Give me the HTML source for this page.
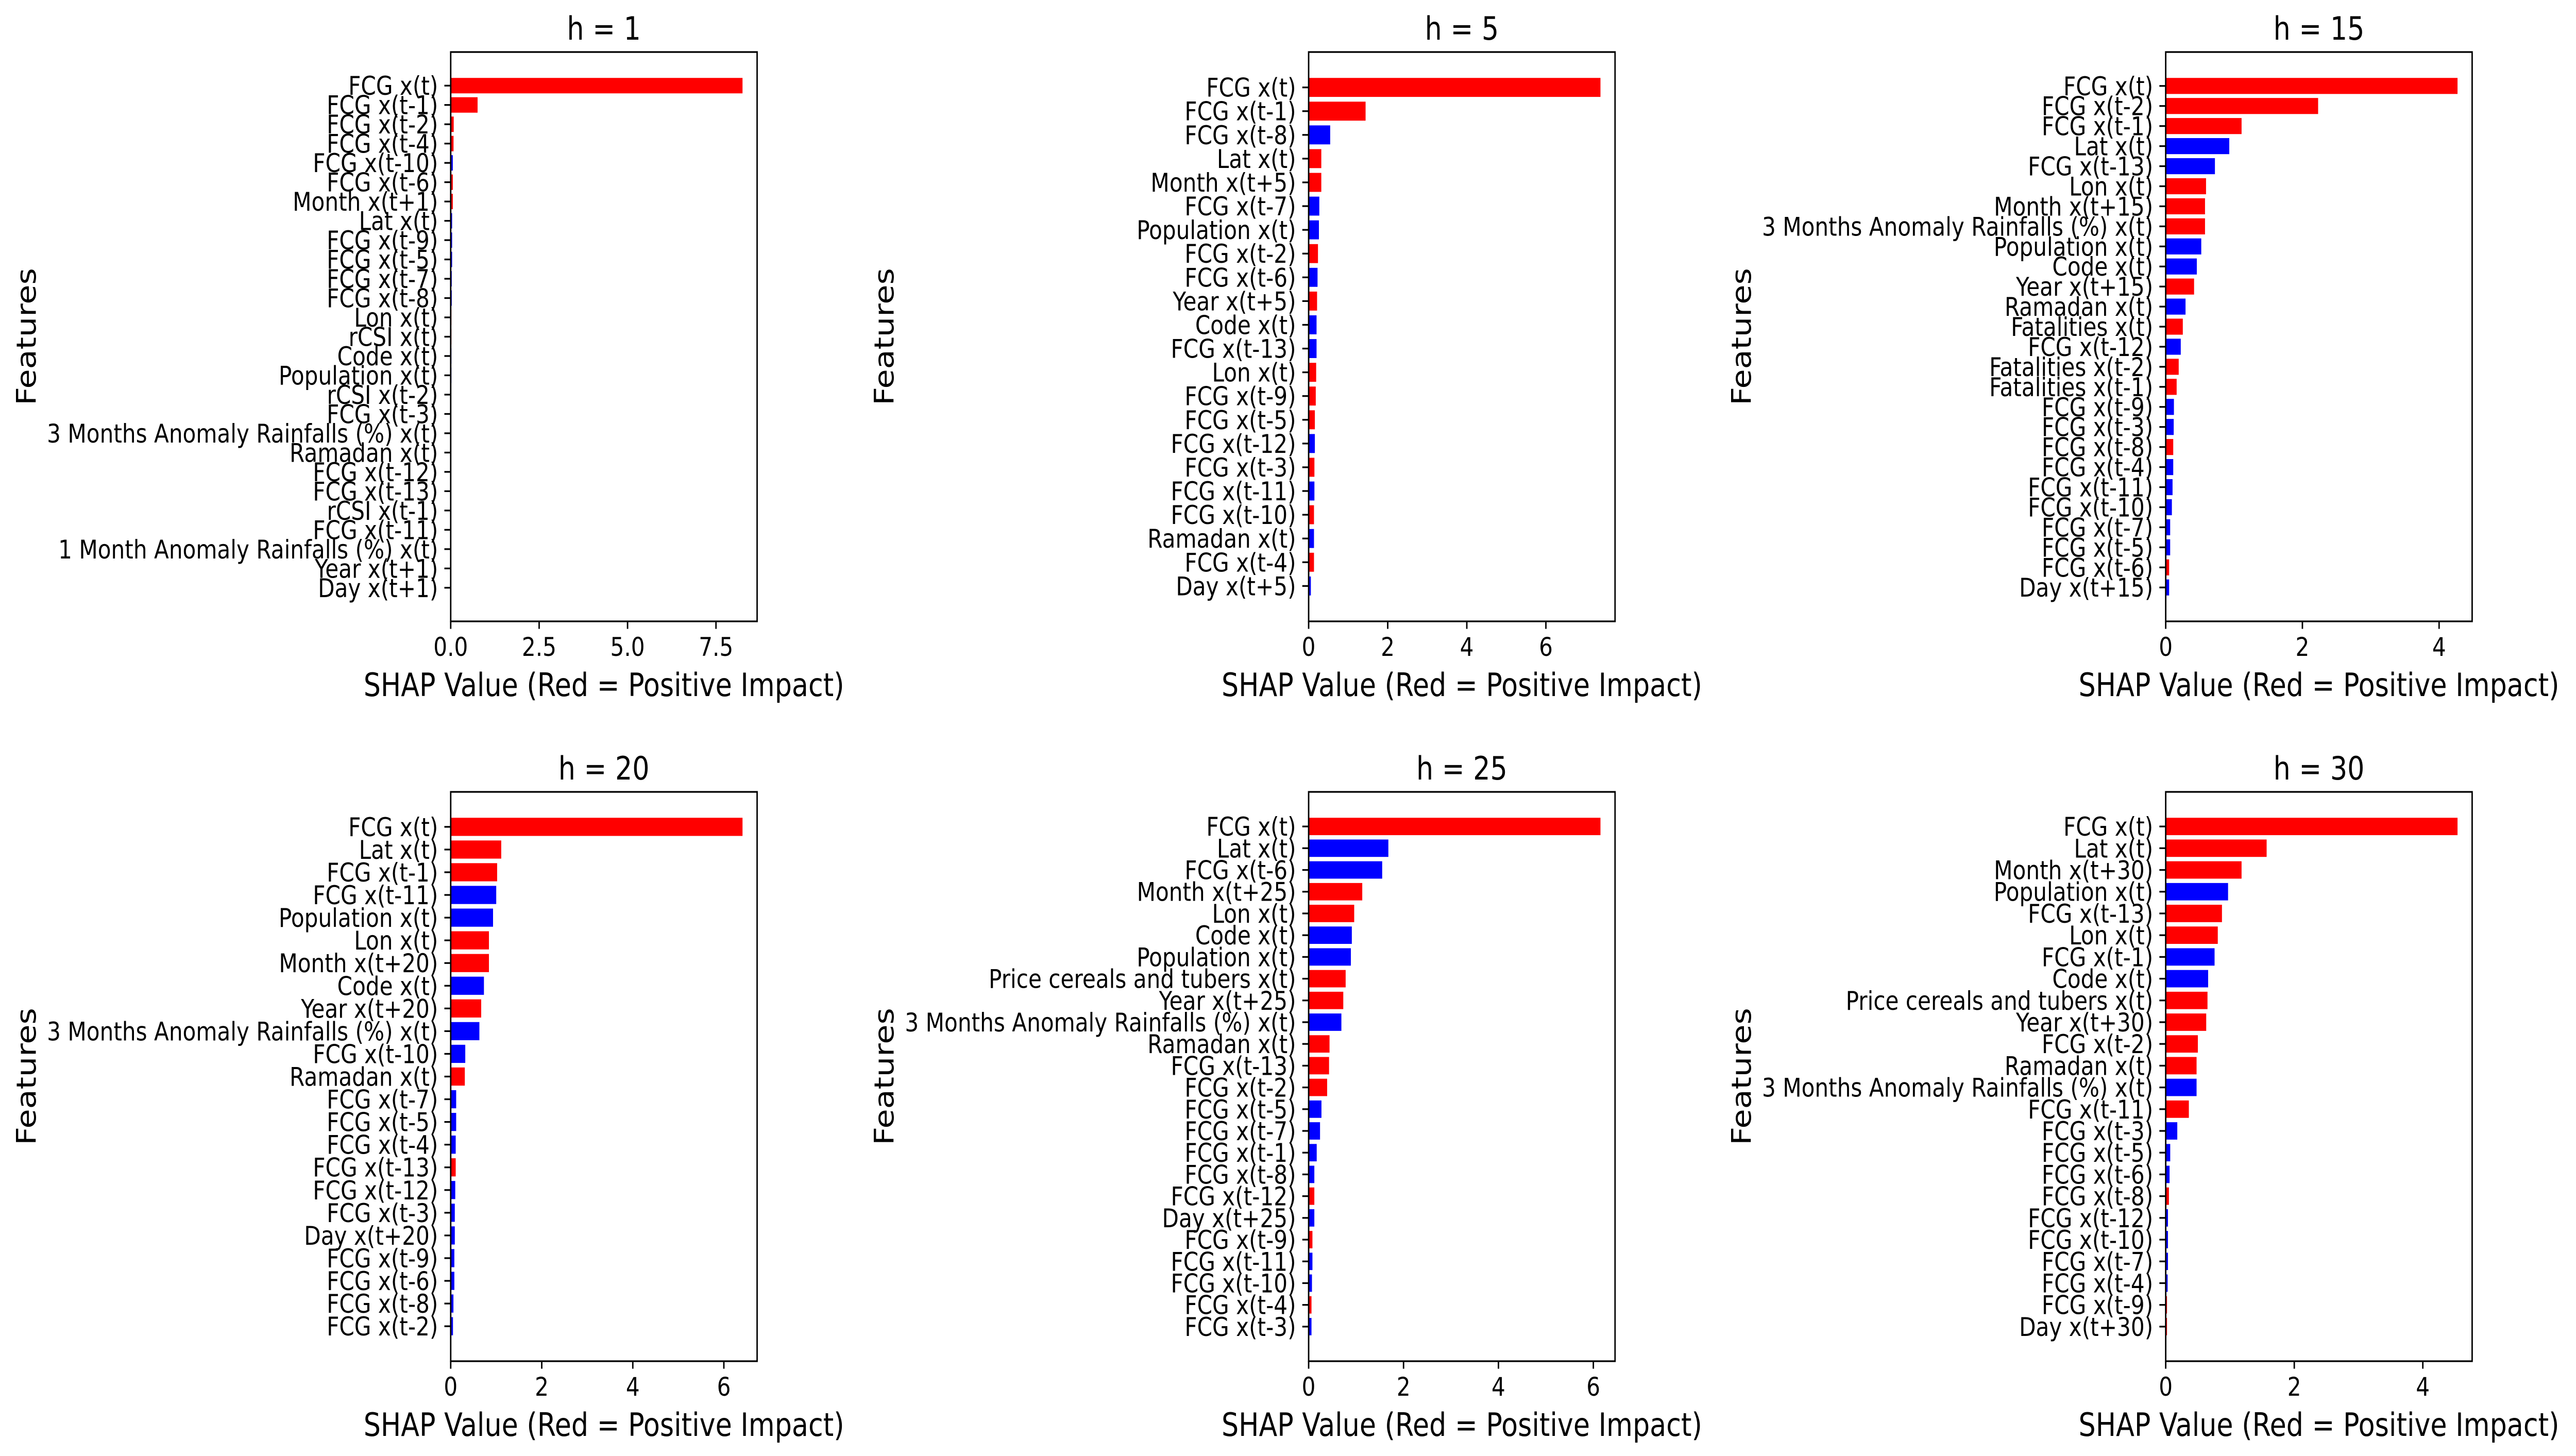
<!DOCTYPE html>
<html><head><meta charset="utf-8"><style>
html,body{margin:0;padding:0;background:#fff;width:100%;height:100%;overflow:hidden;}
svg{display:block;width:100vw;height:100vh;font-family:"DejaVu Sans","Liberation Sans",sans-serif;}
</style></head>
<body>
<svg id="fig" viewBox="0 0 5927 2826" preserveAspectRatio="none" xmlns="http://www.w3.org/2000/svg"></svg>
<script>
// ---- data ----
const titles = ["h = 1","h = 5","h = 15","h = 20","h = 25","h = 30"];
const featH1 = ["FCG x(t)","FCG x(t-1)","FCG x(t-2)","FCG x(t-4)","FCG x(t-10)","FCG x(t-6)","Month x(t+1)","Lat x(t)","FCG x(t-9)","FCG x(t-5)","FCG x(t-7)","FCG x(t-8)","Lon x(t)","rCSI x(t)","Code x(t)","Population x(t)","rCSI x(t-2)","FCG x(t-3)","3 Months Anomaly Rainfalls (%) x(t)","Ramadan x(t)","FCG x(t-12)","FCG x(t-13)","rCSI x(t-1)","FCG x(t-11)","1 Month Anomaly Rainfalls (%) x(t)","Year x(t+1)","Day x(t+1)"];
const valH1 = [8.25,0.76,0.085,0.08,0.06,0.06,0.06,0.04,0.04,0.04,0.03,0.03,0.02,0.02,0.02,0.02,0.015,0.015,0.01,0.01,0.01,0.01,0.01,0.01,0.01,0.01,0.01];
const posH1 = [1,1,1,1,0,1,1,0,0,0,0,0,1,1,0,0,1,0,0,0,0,0,0,0,0,0,0];
const featH5 = ["FCG x(t)","FCG x(t-1)","FCG x(t-8)","Lat x(t)","Month x(t+5)","FCG x(t-7)","Population x(t)","FCG x(t-2)","FCG x(t-6)","Year x(t+5)","Code x(t)","FCG x(t-13)","Lon x(t)","FCG x(t-9)","FCG x(t-5)","FCG x(t-12)","FCG x(t-3)","FCG x(t-11)","FCG x(t-10)","Ramadan x(t)","FCG x(t-4)","Day x(t+5)"];
const valH5 = [7.38,1.44,0.545,0.32,0.32,0.27,0.26,0.236,0.225,0.213,0.2,0.2,0.19,0.18,0.157,0.157,0.146,0.146,0.135,0.135,0.135,0.056];
const posH5 = [1,1,0,1,1,0,0,1,0,1,0,0,1,1,1,0,1,0,1,0,1,0];
const featH15 = ["FCG x(t)","FCG x(t-2)","FCG x(t-1)","Lat x(t)","FCG x(t-13)","Lon x(t)","Month x(t+15)","3 Months Anomaly Rainfalls (%) x(t)","Population x(t)","Code x(t)","Year x(t+15)","Ramadan x(t)","Fatalities x(t)","FCG x(t-12)","Fatalities x(t-2)","Fatalities x(t-1)","FCG x(t-9)","FCG x(t-3)","FCG x(t-8)","FCG x(t-4)","FCG x(t-11)","FCG x(t-10)","FCG x(t-7)","FCG x(t-5)","FCG x(t-6)","Day x(t+15)"];
const valH15 = [4.27,2.23,1.11,0.93,0.72,0.59,0.575,0.575,0.52,0.455,0.415,0.29,0.25,0.22,0.19,0.16,0.12,0.117,0.11,0.11,0.1,0.09,0.065,0.065,0.05,0.05];
const posH15 = [1,1,1,0,0,1,1,1,0,0,1,0,1,0,1,1,0,0,1,0,0,0,0,0,1,0];
const featH20 = ["FCG x(t)","Lat x(t)","FCG x(t-1)","FCG x(t-11)","Population x(t)","Lon x(t)","Month x(t+20)","Code x(t)","Year x(t+20)","3 Months Anomaly Rainfalls (%) x(t)","FCG x(t-10)","Ramadan x(t)","FCG x(t-7)","FCG x(t-5)","FCG x(t-4)","FCG x(t-13)","FCG x(t-12)","FCG x(t-3)","Day x(t+20)","FCG x(t-9)","FCG x(t-6)","FCG x(t-8)","FCG x(t-2)"];
const valH20 = [6.41,1.11,1.02,1.0,0.93,0.84,0.84,0.73,0.67,0.63,0.32,0.31,0.12,0.12,0.11,0.11,0.1,0.09,0.09,0.08,0.08,0.06,0.05];
const posH20 = [1,1,1,0,0,1,1,0,1,0,0,1,0,0,0,1,0,0,0,0,0,0,0];
const featH25 = ["FCG x(t)","Lat x(t)","FCG x(t-6)","Month x(t+25)","Lon x(t)","Code x(t)","Population x(t)","Price cereals and tubers x(t)","Year x(t+25)","3 Months Anomaly Rainfalls (%) x(t)","Ramadan x(t)","FCG x(t-13)","FCG x(t-2)","FCG x(t-5)","FCG x(t-7)","FCG x(t-1)","FCG x(t-8)","FCG x(t-12)","Day x(t+25)","FCG x(t-9)","FCG x(t-11)","FCG x(t-10)","FCG x(t-4)","FCG x(t-3)"];
const valH25 = [6.15,1.68,1.55,1.13,0.96,0.91,0.89,0.78,0.73,0.69,0.44,0.43,0.39,0.27,0.24,0.17,0.12,0.12,0.12,0.08,0.08,0.07,0.06,0.06];
const posH25 = [1,0,0,1,1,0,0,1,1,0,1,1,1,0,0,0,0,1,0,1,0,0,1,0];
const featH30 = ["FCG x(t)","Lat x(t)","Month x(t+30)","Population x(t)","FCG x(t-13)","Lon x(t)","FCG x(t-1)","Code x(t)","Price cereals and tubers x(t)","Year x(t+30)","FCG x(t-2)","Ramadan x(t)","3 Months Anomaly Rainfalls (%) x(t)","FCG x(t-11)","FCG x(t-3)","FCG x(t-5)","FCG x(t-6)","FCG x(t-8)","FCG x(t-12)","FCG x(t-10)","FCG x(t-7)","FCG x(t-4)","FCG x(t-9)","Day x(t+30)"];
const valH30 = [4.54,1.57,1.18,0.97,0.875,0.81,0.76,0.66,0.65,0.63,0.5,0.48,0.48,0.36,0.18,0.07,0.06,0.05,0.035,0.035,0.035,0.03,0.02,0.02];
const posH30 = [1,1,1,0,1,1,0,0,1,1,1,1,0,1,0,0,0,1,0,0,0,0,1,1];
const ticksH1 = [0,2.5,5,7.5];
const tickLabelsH1 = ["0.0","2.5","5.0","7.5"];
const ticksOther = [0,2,4,6];
const tickLabelsOther = ["0","2","4","6"];
const xLabelText = "SHAP Value (Red = Positive Impact)";
const yLabelText = "Features";

// ---- layout ----
const NS = "http://www.w3.org/2000/svg";
const svg = document.getElementById('fig');
const lefts = [1037,3011,4983], tops = [101,1537], W = 705, H = 1105;
function mk(tag, attrs, parent){ const e = document.createElementNS(NS, tag); for (const k in attrs) e.setAttribute(k, attrs[k]); (parent||svg).appendChild(e); return e; }

const panels = [
  [featH1,valH1,posH1,ticksH1,tickLabelsH1],
  [featH5,valH5,posH5,ticksOther,tickLabelsOther],
  [featH15,valH15,posH15,ticksOther,tickLabelsOther],
  [featH20,valH20,posH20,ticksOther,tickLabelsOther],
  [featH25,valH25,posH25,ticksOther,tickLabelsOther],
  [featH30,valH30,posH30,ticksOther,tickLabelsOther]
];

panels.forEach((p, pi) => {
  const [feats, vals, pos, ticks, tlabels] = p;
  const L = lefts[pi % 3], T = tops[Math.floor(pi / 3)];
  const g = mk('g', {});
  
  
  const n = vals.length;
  const xmax = 1.05 * Math.max(...vals);
  const xs = v => L + v / xmax * W;
  const lo = -0.4 - 0.05 * (n - 0.2), hi = n - 1 + 0.4 + 0.05 * (n - 0.2);
  const ys = y => T + (hi - y) / (hi - lo) * H;
  const unit = H / (hi - lo);
  vals.forEach((v, i) => {
    const yv = n - 1 - i;
    const r = mk('rect', {x: xs(0), y: ys(yv) - 0.4 * unit, width: Math.max(0.5, xs(v) - xs(0)), height: 0.8 * unit, fill: pos[i] ? '#ff0000' : '#0000ff'}, g);
    
    
    const tk = mk('line', {x1: L - 14.6, x2: L, y1: ys(yv), y2: ys(yv), stroke: '#000', 'stroke-width': 3.3}, g);
    
    
    const t = mk('text', {x: L - 29, y: ys(yv), dy: '0.36em', 'text-anchor': 'end', 'font-size': 50, fill: '#000'}, g);
    
    
    t.textContent = feats[i];
  });
  ticks.forEach((tv, ti) => {
    if (tv > xmax) return;
    const x = xs(tv);
    const tk = mk('line', {x1: x, x2: x, y1: T + H, y2: T + H + 14.6, stroke: '#000', 'stroke-width': 3.3}, g);
    
    
    const t = mk('text', {x: x, y: T + H + 29 + 38, 'text-anchor': 'middle', 'font-size': 50, fill: '#000'}, g);
    
    
    t.textContent = tlabels[ti];
  });
  const fr = mk('rect', {x: L, y: T, width: W, height: H, fill: 'none', stroke: '#000', 'stroke-width': 3.3}, g);
  
  
  const tt = mk('text', {x: L + W / 2, y: T - 24, 'text-anchor': 'middle', 'font-size': 62, fill: '#000'}, g);
  
  
  tt.textContent = titles[pi];
  const xl = mk('text', {x: L + W / 2, y: T + H + 145, 'text-anchor': 'middle', 'font-size': 62, fill: '#000'}, g);
  
  
  xl.textContent = xLabelText;
  const cx = L - 977, cy = T + H / 2;
  const yl = mk('text', {x: cx, y: cy, dy: '0.36em', 'text-anchor': 'middle', 'font-size': 62, fill: '#000', transform: 'rotate(-90 ' + cx + ' ' + cy + ')'}, g);
  
  
  yl.textContent = yLabelText;
});
</script>
</body></html>
